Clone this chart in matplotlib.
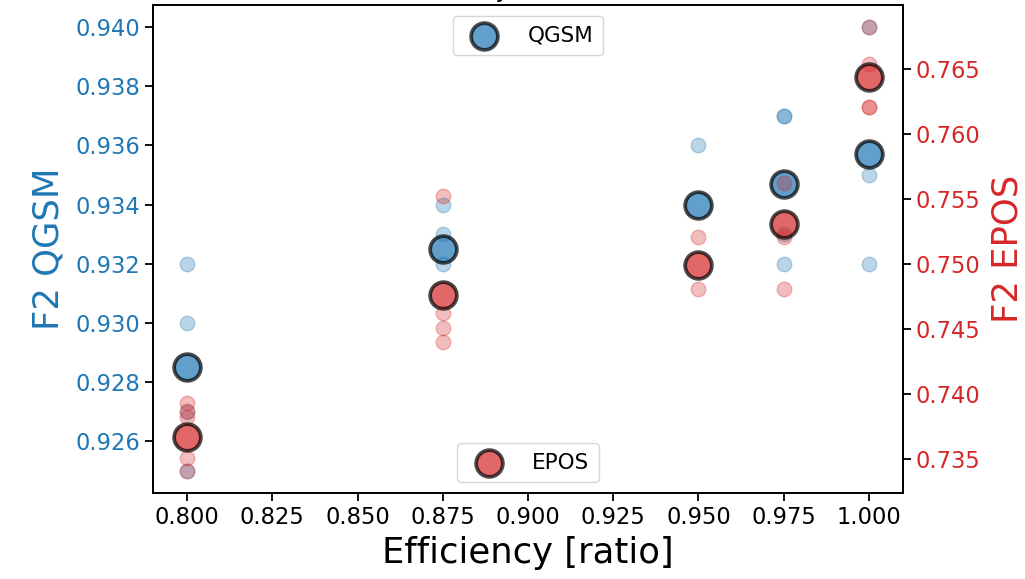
import matplotlib
matplotlib.use("Agg")
import matplotlib.pyplot as plt
from matplotlib.ticker import FormatStrFormatter

# Efficiency levels tested
efficiency_levels = [0.800, 0.875, 0.950, 0.975, 1.000]

# Individual F2 results per efficiency level (QGSM model)
qgsm_runs = [
    [0.932, 0.930, 0.927, 0.925],
    [0.934, 0.933, 0.932],
    [0.936],
    [0.937, 0.937, 0.933, 0.932],
    [0.940, 0.935, 0.932],
]
qgsm_mean = [0.9285, 0.9325, 0.9340, 0.9347, 0.9357]

# Individual F2 results per efficiency level (EPOS model)
epos_runs = [
    [0.7393, 0.7387, 0.7382, 0.7351, 0.7341],
    [0.7552, 0.7462, 0.7451, 0.7440],
    [0.7521, 0.7481],
    [0.7562, 0.7521, 0.7481],
    [0.7682, 0.7654, 0.7621, 0.7621],
]
epos_mean = [0.7367, 0.7476, 0.7499, 0.7531, 0.7644]

x_ticks = [0.800, 0.825, 0.850, 0.875, 0.900, 0.925, 0.950, 0.975, 1.000]

BLUE = "tab:blue"
RED = "tab:red"

fig = plt.figure(figsize=(10.25, 5.79), dpi=100)
ax1 = fig.add_axes([0.1493, 0.1485, 0.7317, 0.8429])
ax2 = ax1.twinx()


def flatten(levels, runs):
    xs, ys = [], []
    for lvl, vals in zip(levels, runs):
        xs.extend([lvl] * len(vals))
        ys.extend(vals)
    return xs, ys


qx, qy = flatten(efficiency_levels, qgsm_runs)
ex, ey = flatten(efficiency_levels, epos_runs)

ax1.scatter(qx, qy, s=110, color=BLUE, alpha=0.3)
ax1.scatter(efficiency_levels, qgsm_mean, s=370, color=BLUE, alpha=0.7,
            edgecolor="black", linewidth=2.7, label="QGSM")

ax2.scatter(ex, ey, s=110, color=RED, alpha=0.3)
ax2.scatter(efficiency_levels, epos_mean, s=370, color=RED, alpha=0.7,
            edgecolor="black", linewidth=2.7, label="EPOS")

ax1.set_xlabel("Efficiency [ratio]", fontsize=25.5, labelpad=5)
ax1.set_ylabel("F2 QGSM", color=BLUE, fontsize=25.5, labelpad=7)
ax2.set_ylabel("F2 EPOS", color=RED, fontsize=25.5, labelpad=7)

ax1.set_xticks(x_ticks)
ax1.xaxis.set_major_formatter(FormatStrFormatter("%.3f"))
ax1.yaxis.set_major_formatter(FormatStrFormatter("%.3f"))
ax2.yaxis.set_major_formatter(FormatStrFormatter("%.3f"))

ax1.tick_params(axis="x", labelsize=16.3, length=5.6, width=1.3)
ax1.tick_params(axis="y", labelsize=16.3, length=5.6, width=1.3, labelcolor=BLUE)
ax2.tick_params(axis="y", labelsize=16.3, length=5.6, width=1.3, labelcolor=RED)

for ax in (ax1, ax2):
    for sp in ax.spines.values():
        sp.set_linewidth(1.3)

ax1.set_title("Efficiency vs. F2 Score", fontsize=17)

ax1.legend(loc="upper center", fontsize=15.5, borderpad=0.45, handletextpad=1.0)
ax2.legend(loc="lower center", fontsize=15.5, borderpad=0.45, handletextpad=1.0)

fig.savefig("out.png", dpi=100)
